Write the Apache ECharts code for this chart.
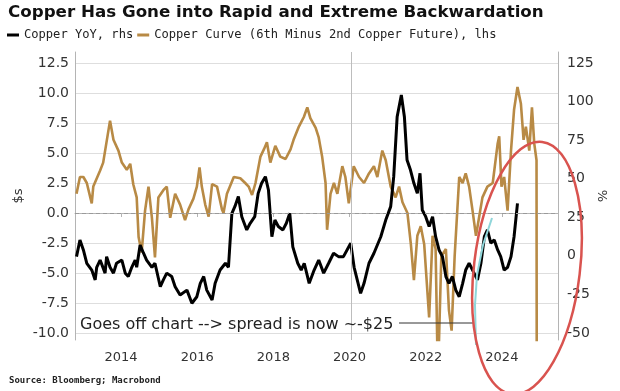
<!DOCTYPE html>
<html>
<head>
<meta charset="utf-8">
<script src="https://cdn.jsdelivr.net/npm/echarts@6/dist/echarts.min.js"></script>
<style>
html,body{margin:0;padding:0;background:#fff;}
#chart{width:620px;height:391px;}
</style>
</head>
<body>
<div id="chart"></div>
<script>
// ---- data (decimal years) ----
const goldYears = [2012.83,2012.92,2013.01,2013.10,2013.23,2013.27,2013.45,2013.53,2013.71,2013.80,2013.93,2014.02,2014.15,2014.24,2014.32,2014.41,2014.46,2014.54,2014.63,2014.72,2014.81,2014.89,2014.98,2015.11,2015.20,2015.29,2015.42,2015.55,2015.68,2015.77,2015.90,2015.99,2016.06,2016.12,2016.21,2016.30,2016.39,2016.52,2016.65,2016.69,2016.78,2016.96,2017.13,2017.26,2017.35,2017.44,2017.53,2017.66,2017.75,2017.83,2017.92,2018.05,2018.18,2018.32,2018.45,2018.53,2018.67,2018.80,2018.89,2018.97,2019.11,2019.19,2019.28,2019.37,2019.41,2019.50,2019.59,2019.68,2019.81,2019.89,2019.98,2020.11,2020.25,2020.38,2020.51,2020.64,2020.73,2020.86,2020.95,2021.08,2021.21,2021.30,2021.39,2021.52,2021.61,2021.69,2021.78,2021.87,2021.96,2022.09,2022.18,2022.26,2022.32,2022.41,2022.53,2022.61,2022.68,2022.76,2022.88,2022.97,2023.05,2023.14,2023.23,2023.32,2023.40,2023.49,2023.62,2023.76,2023.89,2023.93,2023.99,2024.06,2024.15,2024.24,2024.32,2024.41,2024.50,2024.57,2024.63,2024.72,2024.79,2024.85,2024.91,2024.92];
const goldValues = [1.6,3.0,3.0,2.5,0.8,2.2,3.55,4.2,7.7,6.1,5.2,4.2,3.6,4.1,2.4,1.3,-2.0,-3.3,0.2,2.2,-0.4,-3.7,1.3,1.9,2.2,-0.4,1.6,0.7,-0.6,0.3,1.2,2.2,3.8,2.2,0.7,-0.3,2.4,2.2,0.3,0.0,1.6,3.0,2.9,2.5,2.2,1.5,2.5,4.7,5.3,5.9,4.2,5.6,4.7,4.5,5.3,6.1,7.2,8.0,8.8,7.9,7.1,6.3,4.7,2.5,-1.4,1.6,2.5,1.6,3.9,3.0,0.8,3.9,3.0,2.5,3.3,3.9,3.0,5.2,4.4,2.2,1.3,2.2,0.9,0.0,-2.6,-5.6,-1.9,-1.1,-2.6,-8.7,-1.9,-3.0,-14,-3.6,-3.0,-8.1,-9.8,-3.6,3.0,2.5,3.3,2.2,0.2,-1.9,-0.4,1.3,2.2,2.5,5.8,6.4,2.2,3.0,0.2,5.2,8.6,10.5,9.1,6.1,7.2,5.2,8.8,5.8,4.4,-25];

const yoyYears = [2012.83,2012.92,2013.01,2013.10,2013.23,2013.32,2013.36,2013.45,2013.58,2013.62,2013.71,2013.80,2013.88,2014.02,2014.11,2014.19,2014.28,2014.37,2014.41,2014.50,2014.59,2014.67,2014.81,2014.89,2015.03,2015.11,2015.20,2015.33,2015.42,2015.55,2015.73,2015.86,2015.99,2016.08,2016.17,2016.25,2016.39,2016.47,2016.60,2016.74,2016.82,2016.91,2016.99,2017.08,2017.17,2017.30,2017.39,2017.51,2017.60,2017.69,2017.79,2017.87,2017.96,2018.04,2018.13,2018.25,2018.34,2018.43,2018.51,2018.64,2018.73,2018.81,2018.94,2019.07,2019.19,2019.32,2019.45,2019.58,2019.71,2019.84,2020.03,2020.12,2020.29,2020.38,2020.51,2020.64,2020.82,2020.95,2021.08,2021.16,2021.25,2021.36,2021.44,2021.51,2021.60,2021.69,2021.78,2021.85,2021.91,2022.00,2022.09,2022.18,2022.26,2022.35,2022.44,2022.53,2022.61,2022.70,2022.79,2022.88,2022.97,2023.05,2023.14,2023.23,2023.36,2023.45,2023.54,2023.62,2023.71,2023.80,2023.89,2023.97,2024.06,2024.15,2024.24,2024.32,2024.41];
const yoyValues = [-0.5,10.3,3.8,-4.8,-9.2,-15.6,-7.4,-2.7,-11.2,-0.5,-7.4,-11.2,-4.8,-2.7,-11.2,-13.4,-7.4,-2.7,-7.4,7.0,1.7,-2.7,-7.4,-4.8,-20,-15.6,-11.2,-13.4,-20,-25.4,-22.2,-30.7,-26.5,-17.8,-13.4,-22.2,-28.6,-17.8,-9.2,-4.8,-7.4,27.6,32,38.4,25.4,16.8,21.1,25.4,40.5,47,51.3,42.7,12.4,23.2,19,16.8,21.1,27.6,5.8,-4.8,-9.2,-4.8,-17.8,-9.2,-2.7,-11.2,-4.8,1.7,-0.5,-0.5,8.2,-7.4,-24.3,-17.8,-4.8,1.7,12.4,23.2,31.9,51.3,90.2,104.3,90.2,62.1,55.6,47,40.5,53.5,29.7,25.4,19,25.4,12.4,3.8,-0.5,-13.4,-17.8,-13.4,-22.2,-26.5,-17.8,-9.2,-4.8,-9.2,-15.6,-4.8,12.4,16.8,8.2,10.3,3.8,-0.5,-9.2,-7.4,-0.5,12.4,34];

const yearTicks = [2014, 2016, 2018, 2020, 2022, 2024];
const leftTicks = {min: -10, max: 12.5, step: 2.5};
const rightTicks = {min: -50, max: 125, step: 25};
const markerYear = 2020.05;

const titleText = 'Copper Has Gone into Rapid and Extreme Backwardation';
const sourceText = 'Source: Bloomberg; Macrobond';
const noteText = 'Goes off chart --> spread is now ~-$25';
const seriesNames = ['Copper YoY, rhs', 'Copper Curve (6th Minus 2nd Copper Future), lhs'];

// ---- layout ----
const X_MIN = 2012.79, X_MAX = 2025.474;
const GOLD = '#b88a45';
const GRID = '#dedede';
const AXIS = '#b4b4b4';
const FONT = 'DejaVu Sans';

const goldData = goldYears.map((x, i) => [x, goldValues[i]]);
const yoyData = yoyYears.map((x, i) => [x, yoyValues[i]]);

const nLeft = Math.round((leftTicks.max - leftTicks.min) / leftTicks.step) + 1;
const splitColors = [];
for (let i = 0; i < nLeft; i++) {
  const v = leftTicks.min + i * leftTicks.step;
  splitColors.push(Math.abs(v) < 1e-9 ? 'rgba(0,0,0,0)' : GRID);
}

const chart = echarts.init(document.getElementById('chart'), null, {renderer: 'canvas'});
const option = {
  animation: false,
  backgroundColor: '#fff',
  title: [
    {text: titleText, left: 8, top: 4, padding: 0,
     textStyle: {fontFamily: FONT, fontSize: 16.7, fontWeight: 'bold', color: '#111'}},
    {text: sourceText, left: 9, top: 376, padding: 0,
     textStyle: {fontFamily: 'DejaVu Sans Mono', fontSize: 9, fontWeight: 'bold', color: '#222'}}
  ],
  legend: {
    left: 7, top: 29, padding: 0, itemWidth: 12, itemHeight: 3, itemGap: 4, icon: 'rect',
    textStyle: {fontFamily: 'DejaVu Sans Mono', fontSize: 12.1, color: '#222'},
    data: seriesNames
  },
  grid: [
    {left: 75, right: 62, top: 52, bottom: 51},
    {left: 75, right: 62, top: 63, bottom: 58}
  ],
  xAxis: [
    {type: 'value', gridIndex: 0, min: X_MIN, max: X_MAX,
     axisLine: {show: true, lineStyle: {color: AXIS}},
     axisTick: {show: true, customValues: yearTicks, length: 4, lineStyle: {color: AXIS}},
     axisLabel: {customValues: yearTicks, formatter: v => String(Math.round(v)),
                 fontFamily: FONT, fontSize: 13, color: '#333', margin: 11},
     splitLine: {show: false}},
    {type: 'value', gridIndex: 1, min: X_MIN, max: X_MAX, show: false}
  ],
  yAxis: [
    {type: 'value', gridIndex: 0, min: -10.583, max: 13.417, position: 'left',
     axisLine: {show: true, lineStyle: {color: AXIS}}, axisTick: {show: false},
     axisLabel: {show: false}, splitLine: {show: false},
     name: '$s', nameLocation: 'middle', nameGap: 50, nameRotate: 90,
     nameTextStyle: {fontFamily: FONT, fontSize: 13, color: '#333'}},
    {type: 'value', gridIndex: 0, min: -54.54, max: 132.13, position: 'right',
     axisLine: {show: true, lineStyle: {color: AXIS}}, axisTick: {show: false},
     axisLabel: {show: false}, splitLine: {show: false},
     name: '%', nameLocation: 'middle', nameGap: 37, nameRotate: -90,
     nameTextStyle: {fontFamily: FONT, fontSize: 13, color: '#333'}},
    {type: 'value', gridIndex: 1, min: leftTicks.min, max: leftTicks.max, interval: leftTicks.step,
     position: 'left', axisLine: {show: false}, axisTick: {show: false},
     axisLabel: {formatter: v => v.toFixed(1), fontFamily: FONT, fontSize: 14, color: '#333', margin: 6},
     splitLine: {show: true, lineStyle: {color: splitColors, width: 1}}},
    {type: 'value', gridIndex: 1, min: rightTicks.min, max: rightTicks.max, interval: rightTicks.step,
     position: 'right', axisLine: {show: false}, axisTick: {show: false},
     axisLabel: {fontFamily: FONT, fontSize: 14, color: '#333', margin: 9},
     splitLine: {show: false}}
  ],
  series: [
    {name: seriesNames[1], type: 'line', xAxisIndex: 0, yAxisIndex: 0, data: goldData,
     showSymbol: false, symbol: 'none', color: GOLD, lineStyle: {color: GOLD, width: 2.6}, z: 2,
     markLine: {silent: true, symbol: 'none', label: {show: false},
       data: [
         {yAxis: 0, lineStyle: {color: '#9a9a9a', type: [4, 3], width: 1}},
         {xAxis: markerYear, lineStyle: {color: '#bdbdbd', type: 'solid', width: 1}}
       ]}},
    {name: seriesNames[0], type: 'line', xAxisIndex: 0, yAxisIndex: 1, data: yoyData,
     showSymbol: false, symbol: 'none', color: '#000', lineStyle: {color: '#000', width: 3}, z: 3}
  ],
  graphic: [
    {type: 'text', x: 80, y: 325, z: 50,
     style: {text: noteText, fontFamily: FONT, fontSize: 16, fill: '#222', verticalAlign: 'middle'}},
    {type: 'line', z: 50, shape: {x1: 399, y1: 323, x2: 474, y2: 323}, style: {stroke: '#333', lineWidth: 1}},
    {type: 'polyline', z: 60, shape: {points: [[476, 345], [475, 305], [477, 275], [483, 245], [492, 218]]},
     style: {stroke: '#8fd6da', lineWidth: 2, fill: null}},
    {type: 'ellipse', z: 70, x: 527, y: 268, rotation: -0.12,
     shape: {cx: 0, cy: 0, rx: 53, ry: 127},
     style: {fill: null, stroke: '#d9534f', lineWidth: 2.5}}
  ]
};
chart.setOption(option);
</script>
</body>
</html>
